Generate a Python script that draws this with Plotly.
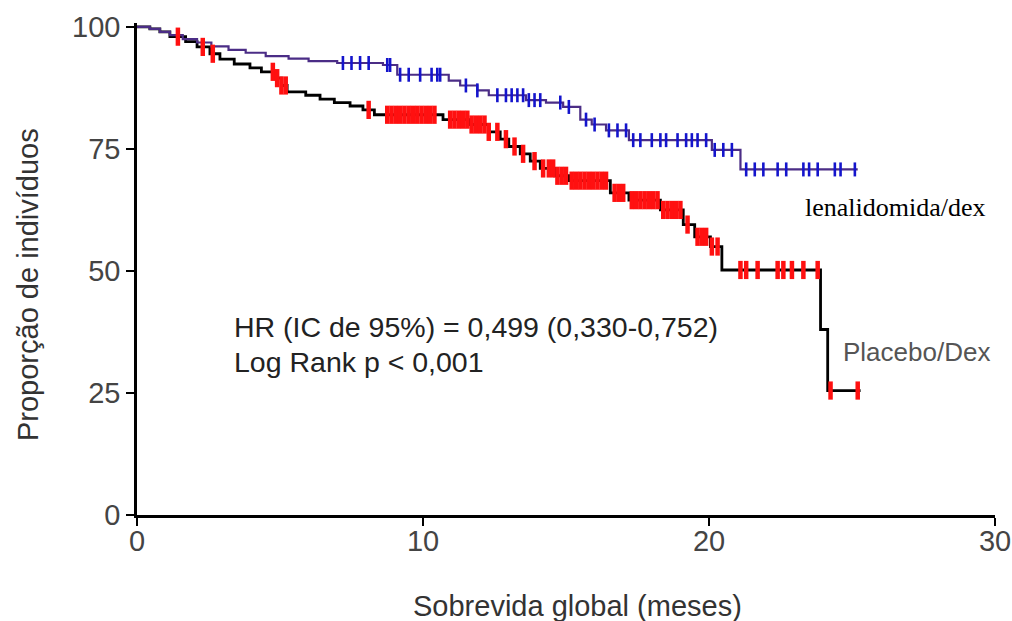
import numpy as np
import plotly.graph_objects as go

# Lenalidomida/dex step curve (months, % surviving)
len_t = [0, 0.45, 0.8, 1.15, 1.6, 2.1, 2.6, 3.2, 3.8, 4.5, 5.3, 6.0, 7.0, 8.6, 9.1,
         10.9, 11.3, 11.9, 12.3, 13.6, 14.3, 14.9, 15.5, 15.9, 16.4, 17.2, 20.1, 21.1, 25.2]
len_s = [100, 99.6, 99, 98.3, 97.5, 96.8, 96, 95.3, 94.7, 94, 93.5, 93, 92.6, 92.2, 90.2,
         89, 88, 87, 86, 85, 84.5, 83.6, 81, 80, 78.8, 76.8, 74.8, 70.8, 70.8]
len_cens = [7.2, 7.5, 7.8, 8.1, 8.75, 8.85, 9.2, 9.5, 9.9, 10.3, 10.5, 10.6, 11.5, 11.9,
            12.6, 12.9, 13.1, 13.3, 13.5, 13.7, 13.9, 14.1, 14.8, 15.1, 15.7, 16.0, 16.5,
            16.8, 17.1, 17.35, 17.6, 18.0, 18.3, 18.5, 18.9, 19.2, 19.4, 19.6, 19.9, 20.2,
            20.5, 20.8, 21.3, 21.6, 21.9, 22.4, 22.7, 23.3, 23.5, 23.8, 24.4, 24.6, 25.1]

# Placebo/Dex step curve
pla_t = [0, 0.45, 0.8, 1.15, 1.7, 2.1, 2.55, 2.9, 3.4, 3.95, 4.35, 4.8, 5.05, 5.25, 5.9,
         6.4, 6.9, 7.45, 7.9, 8.3, 10.7, 11.6, 12.3, 12.7, 13.0, 13.4, 13.75, 14.1, 14.6,
         15.1, 16.55, 17.2, 18.3, 19.1, 19.5, 20.05, 20.45, 23.9, 24.15, 25.3]
pla_s = [100, 99.6, 99, 98, 97, 95.9, 94.5, 93.4, 92.4, 91.6, 90.8, 89.5, 88, 86.7, 86,
         85.2, 84.5, 83.8, 83, 82, 81, 80, 78.5, 77, 75.5, 74, 72.5, 71, 69.5,
         68.5, 66, 64.5, 62.5, 59.5, 57, 55, 50.2, 38, 25.5, 25.5]
pla_cens = [1.43, 2.3, 2.65, 4.75, 4.9, 5.05, 5.2, 8.1, 8.75, 8.9, 9.05, 9.2, 9.35, 9.5,
            9.65, 9.8, 9.95, 10.1, 10.25, 10.4, 10.95, 11.1, 11.25, 11.4, 11.55, 11.7,
            11.85, 12.0, 12.15, 12.3, 12.6, 12.9, 13.2, 13.5, 13.9, 14.2, 14.4, 14.55,
            14.7, 14.85, 15.0, 15.2, 15.35, 15.5, 15.65, 15.8, 15.95, 16.1, 16.25, 16.4,
            16.7, 16.85, 17.0, 17.3, 17.45, 17.6, 17.75, 17.9, 18.05, 18.2, 18.4, 18.55,
            18.7, 18.85, 19.0, 19.25, 19.6, 19.75, 19.9, 20.1, 20.3, 21.1, 21.3, 21.7,
            22.4, 22.6, 22.9, 23.3, 23.8, 24.25, 25.2]

x_ticks = [0, 10, 20, 30]
y_ticks = [0, 25, 50, 75, 100]


def surv_at(ts, ss, times):
    ts = np.asarray(ts)
    ss = np.asarray(ss)
    idx = np.searchsorted(ts, np.asarray(times), side="right") - 1
    return ss[idx]


fig = go.Figure()
fig.add_trace(go.Scatter(x=pla_t, y=pla_s, mode="lines", line_shape="hv",
                         line=dict(color="black", width=2.8), hoverinfo="skip"))
fig.add_trace(go.Scatter(x=len_t, y=len_s, mode="lines", line_shape="hv",
                         line=dict(color="#4b2d86", width=2.2), hoverinfo="skip"))
fig.add_trace(go.Scatter(x=pla_cens, y=surv_at(pla_t, pla_s, pla_cens), mode="markers",
                         marker=dict(symbol="line-ns", size=13,
                                     line=dict(color="#ff1010", width=4.5)),
                         hoverinfo="skip"))
fig.add_trace(go.Scatter(x=len_cens, y=surv_at(len_t, len_s, len_cens), mode="markers",
                         marker=dict(symbol="line-ns", size=10,
                                     line=dict(color="#1414cc", width=2.6)),
                         hoverinfo="skip"))

sans = "Liberation Sans, Arial, sans-serif"
axis_common = dict(ticks="outside", ticklen=8, tickwidth=2, tickcolor="black",
                   showline=True, linewidth=2.5, linecolor="black", showgrid=False,
                   zeroline=False, automargin=False,
                   tickfont=dict(family=sans, size=29, color="#444444"))

fig.update_layout(
    width=1012, height=621, autosize=False,
    margin=dict(l=137, r=17, t=23, b=106),
    plot_bgcolor="white", paper_bgcolor="white",
    showlegend=False,
    xaxis=dict(range=[0, 30], tickvals=x_ticks, ticklabelstandoff=-10, **axis_common),
    yaxis=dict(range=[0, 100.8], tickvals=y_ticks, **axis_common),
    annotations=[
        dict(text="Sobrevida global (meses)", xref="paper", yref="paper", x=0.513, y=-0.185,
             showarrow=False, xanchor="center", yanchor="middle",
             font=dict(family=sans, size=29, color="#333333")),
        dict(text="Proporção de indivíduos", xref="paper", yref="paper", x=-0.127, y=0.4675,
             showarrow=False, textangle=-90, xanchor="center", yanchor="middle",
             font=dict(family=sans, size=29, color="#333333")),
        dict(text="HR (IC de 95%) = 0,499 (0,330-0,752)", xref="x", yref="y", x=3.32, y=38.5,
             showarrow=False, xanchor="left", yanchor="middle",
             font=dict(family=sans, size=28.5, color="#222222")),
        dict(text="Log Rank p < 0,001", xref="x", yref="y", x=3.32, y=31.4,
             showarrow=False, xanchor="left", yanchor="middle",
             font=dict(family=sans, size=28.5, color="#222222")),
        dict(text="lenalidomida/dex", xref="x", yref="y", x=23.3, y=62.9,
             showarrow=False, xanchor="left", yanchor="middle",
             font=dict(family="Liberation Serif, Times New Roman, serif", size=26, color="black")),
        dict(text="Placebo/Dex", xref="x", yref="y", x=24.6, y=33.4,
             showarrow=False, xanchor="left", yanchor="middle",
             font=dict(family=sans, size=26, color="#555555")),
    ],
)

post = ("document.documentElement.style.overflow='hidden';"
        "document.body.style.margin='0px';"
        "document.body.style.overflow='hidden';"
        "var gd=document.getElementById('{plot_id}');"
        "Plotly.relayout(gd,{width:1012,height:621});")

fig.write_html("out.html", config={"displayModeBar": False, "responsive": False},
               post_script=post)
